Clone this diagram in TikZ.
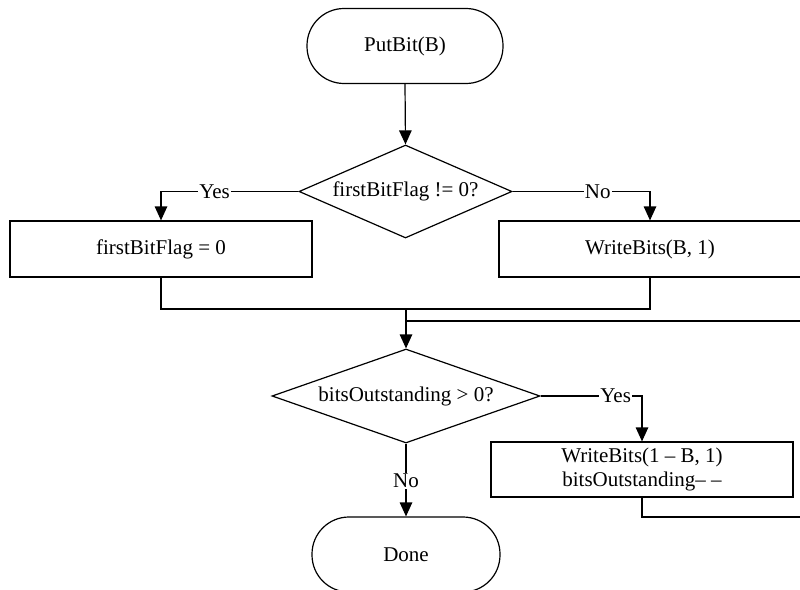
\documentclass[tikz,border=0pt]{standalone}
\usepackage{fontspec}
\setmainfont{Liberation Serif}
\usetikzlibrary{shapes.geometric,arrows.meta}
\begin{document}
\begin{tikzpicture}[x=1pt,y=-1pt,
  every node/.style={font=\fontsize{21}{25}\selectfont},
  line/.style={line width=1.2pt,draw=black},
  arr/.style={line,-{Triangle[length=14pt,width=12.5pt]}},
  term/.style={line,rectangle,rounded corners=37pt,inner sep=0pt},
  procbox/.style={line,rectangle,inner sep=0pt,align=center},
  decide/.style={line,diamond,inner sep=0pt},
  lab/.style={fill=white,inner sep=1pt}]
\useasboundingbox (0,0) rectangle (800,589);
\clip (0,0) rectangle (800,589);
\node[term,minimum width=196pt,minimum height=75pt] (put) at (405,46) {PutBit(B)};
\node[decide,aspect=2.3,minimum width=213pt,minimum height=93pt] (d1) at (405.5,191.5) {firstBitFlag != 0?};
\node[procbox,minimum width=302pt,minimum height=56pt] (b1) at (161,249) {firstBitFlag = 0};
\node[procbox,minimum width=302pt,minimum height=56pt] (b2) at (650,249) {WriteBits(B, 1)};
\node[decide,aspect=2.85,minimum width=268pt,minimum height=94pt] (d2) at (406,396) {bitsOutstanding > 0?};
\node[procbox,minimum width=302pt,minimum height=55pt,font=\fontsize{21}{24}\selectfont] (b3) at (642,469.5) {WriteBits(1 -- B, 1)\\bitsOutstanding-- --};
\node[term,minimum width=188pt,minimum height=75pt] (done) at (406,554.5) {Done};
\coordinate (m1) at (406,309);
\coordinate (m2) at (406,321);
\coordinate (r1) at (830,517);
\coordinate (r2) at (830,321);
\draw[arr] (put.south) -- (d1.north);
\draw[arr] (d1.west) -| node[lab,pos=0.305] {Yes} (b1.north);
\draw[arr] (d1.east) -| node[lab,pos=0.31] {No} (b2.north);
\draw[line] (b1.south) |- (m1) -| (b2.south);
\draw[arr] (m1) -- (d2.north);
\draw[line] (b3.south) |- (r1) -- (r2) -- (m2);
\draw[arr] (d2.east) -| node[lab,pos=0.37] {Yes} (b3.north);
\draw[arr] (d2.south) -- node[lab,pos=0.51] {No} (done.north);
\end{tikzpicture}
\end{document}
